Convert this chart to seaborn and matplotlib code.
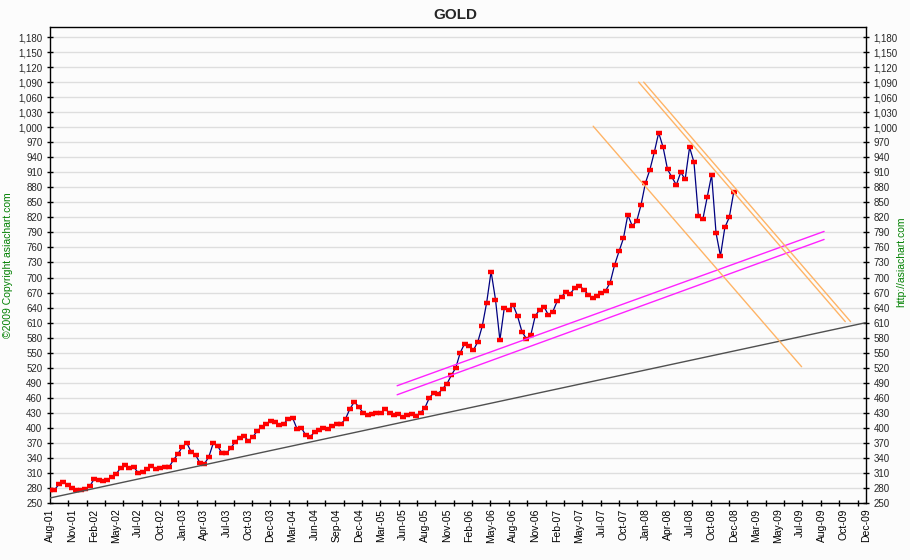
import numpy as np
import pandas as pd
import matplotlib
matplotlib.use("Agg")
import matplotlib.pyplot as plt
from matplotlib.ticker import FixedLocator, FuncFormatter
import seaborn as sns

# ---------------- data ----------------
month_labels = ["Aug-01", "Nov-01", "Feb-02", "May-02", "Jul-02", "Oct-02", "Jan-03",
                "Apr-03", "Jul-03", "Oct-03", "Dec-03", "Mar-04", "Jun-04", "Sep-04",
                "Dec-04", "Mar-05", "Jun-05", "Aug-05", "Nov-05", "Feb-06", "May-06",
                "Aug-06", "Nov-06", "Feb-07", "May-07", "Jul-07", "Oct-07", "Jan-08",
                "Apr-08", "Jul-08", "Oct-08", "Dec-08", "Mar-09", "May-09", "Jul-09",
                "Aug-09", "Oct-09", "Dec-09"]

# gold price sampled every 0.2 label-interval, starting at Aug-01
sample_step = 0.2
gold_price = [275, 276, 287, 292, 286, 279, 276, 276, 278, 283,
              298, 296, 294, 296, 301, 308, 320, 326, 320, 322,
              310, 311, 318, 323, 317, 319, 321, 322, 336, 348,
              362, 370, 352, 346, 330, 328, 342, 369, 364, 349,
              349, 360, 372, 380, 383, 374, 382, 394, 402, 408,
              414, 412, 406, 408, 418, 420, 398, 400, 385, 382,
              392, 395, 400, 398, 404, 408, 408, 418, 438, 452,
              442, 430, 425, 428, 430, 430, 437, 430, 426, 427,
              422, 425, 428, 424, 430, 440, 460, 470, 468, 478,
              488, 505, 520, 550, 568, 564, 555, 572, 603, 650,
              712, 656, 575, 640, 635, 645, 623, 592, 578, 585,
              623, 636, 642, 625, 632, 653, 662, 672, 668, 680,
              684, 676, 666, 660, 664, 669, 674, 690, 725, 752,
              778, 825, 803, 812, 845, 889, 915, 950, 989, 960,
              916, 900, 885, 910, 896, 960, 930, 823, 816, 860,
              905, 789, 743, 800, 820, 870]

# trend lines: (x in label units, price)
black_trend_x = [0.0, 37.0]
black_trend_y = [260, 610]
magenta_upper_x = [15.74, 35.1]
magenta_upper_y = [484, 792]
magenta_lower_x = [15.74, 35.1]
magenta_lower_y = [466, 776]
orange_left_x = [24.63, 34.08]
orange_left_y = [1002, 522]
orange_right1_x = [26.69, 36.06]
orange_right1_y = [1090, 612]
orange_right2_x = [26.92, 36.30]
orange_right2_y = [1090, 612]

y_ticks = list(range(250, 1181, 30))

# ---------------- figure ----------------
sns.set_theme(style="white")
plt.rcParams["font.family"] = ["Liberation Sans", "DejaVu Sans"]

bg = "#fcfcfc"
fig = plt.figure(figsize=(9.1, 5.6), dpi=100, facecolor=bg)
ax = fig.add_axes([50 / 910, 57 / 560, 816 / 910, 476 / 560], facecolor=bg)

df = pd.DataFrame({"x": np.arange(len(gold_price)) * sample_step,
                   "price": gold_price})

ax.set_ylim(250, 1200)
ax.set_xlim(0, 37)

for v in y_ticks:
    ax.axhline(v, color="#dedede", lw=1.0, zorder=0)

sns.lineplot(data=df, x="x", y="price", ax=ax, color="#000080", lw=0.9,
             marker="_", markersize=4.8, markeredgewidth=3.2,
             markeredgecolor="#ff0000", markerfacecolor="#ff0000", zorder=3)

def trend(xs, ys, color, lw=1.0):
    t = pd.DataFrame({"x": xs, "y": ys})
    sns.lineplot(data=t, x="x", y="y", ax=ax, color=color, lw=lw, zorder=4)

trend(black_trend_x, black_trend_y, "#505050", 1.0)
trend(magenta_upper_x, magenta_upper_y, "#ff22ff", 1.0)
trend(magenta_lower_x, magenta_lower_y, "#ff22ff", 1.0)
trend(orange_left_x, orange_left_y, "#ffb466", 1.0)
trend(orange_right1_x, orange_right1_y, "#ffb466", 1.0)
trend(orange_right2_x, orange_right2_y, "#ffb466", 1.0)

ax.set_xlabel("")
ax.set_ylabel("")

# x axis
ax.set_xticks(np.arange(len(month_labels)))
ax.set_xticklabels(month_labels, rotation=90, fontsize=7.5)
ax.xaxis.set_minor_locator(FixedLocator(np.arange(0, 37, 0.8322)))
ax.tick_params(axis="x", which="major", length=0, pad=4, colors="black")
ax.tick_params(axis="x", which="minor", length=5, direction="inout",
               width=1, color="black", bottom=True)

# y axis both sides
ax.set_yticks(y_ticks)
ax.yaxis.set_major_formatter(FuncFormatter(lambda v, p: f"{int(v):,}"))
ax.tick_params(axis="y", which="major", length=5, direction="inout", width=1,
               color="black", labelsize=7, left=True, right=True,
               labelleft=True, labelright=True, pad=3)

for s in ax.spines.values():
    s.set_visible(True)
    s.set_color("black")
    s.set_linewidth(1.0)

ax.grid(False)

fig.text(0.5, 1 - 15 / 560, "GOLD", ha="center", va="center",
         fontsize=11, fontweight="bold")
fig.text(8 / 910, 1 - 265 / 560, "\u00a92009 Copyright asiachart.com",
         rotation=90, ha="center", va="center", fontsize=7.5, color="#008000")
fig.text(901 / 910, 1 - 262 / 560, "http://asiachart.com",
         rotation=90, ha="center", va="center", fontsize=7.5, color="#008000")

fig.savefig("out.png", dpi=100, facecolor=bg)
